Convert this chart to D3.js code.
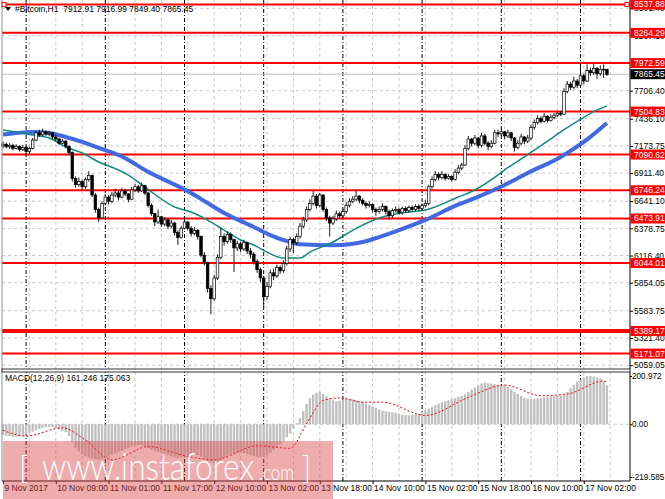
<!DOCTYPE html>
<html>
<head>
<meta charset="utf-8">
<script src="https://cdn.jsdelivr.net/npm/d3@7"></script>
<style>
  body { margin: 0; background: #fff; }
  svg { display: block; font-family: "Liberation Sans", Arial, sans-serif; }
  .axis text { font-family: "Liberation Sans", Arial, sans-serif; font-size: 8.5px; fill: #000; }
  .axis line { stroke: #000; }
  .macd-axis text { font-size: 8.2px; }
  .mark { font-family: Lato, "Liberation Sans", Arial, sans-serif; font-weight: 300; fill: #fff; }
</style>
</head>
<body>
<div id="chart-container"></div>
<script>
// H1 bars, [open, high, low, close]
const bars = [
  [7175,7215,7150,7190],[7190,7205,7150,7165],[7165,7200,7145,7180],[7180,7195,7130,7150],
  [7150,7190,7140,7170],[7170,7180,7120,7140],[7140,7185,7125,7160],[7160,7170,7080,7120],
  [7120,7165,7100,7150],[7150,7250,7140,7230],[7230,7320,7220,7300],[7300,7330,7260,7280],
  [7280,7340,7270,7310],[7310,7325,7270,7290],[7290,7320,7265,7300],[7300,7310,7240,7260],
  [7260,7280,7220,7240],[7240,7255,7185,7200],[7200,7240,7190,7220],[7220,7230,7150,7170],
  [7170,7180,7090,7110],[7110,7120,6830,6860],[6860,6880,6770,6800],[6800,6870,6780,6830],
  [6830,6850,6750,6780],[6780,6870,6760,6850],[6850,6930,6830,6890],[6890,6900,6680,6700],
  [6700,6720,6530,6560],[6560,6580,6440,6480],[6480,6640,6470,6620],[6620,6710,6600,6680],
  [6680,6700,6610,6640],[6640,6730,6620,6700],[6700,6760,6680,6720],[6720,6740,6650,6680],
  [6680,6770,6670,6740],[6740,6760,6690,6710],[6710,6720,6630,6660],[6660,6780,6650,6750],
  [6750,6810,6730,6780],[6780,6800,6720,6740],[6740,6820,6730,6790],[6790,6800,6700,6720],
  [6720,6730,6580,6600],[6600,6620,6500,6520],[6520,6530,6400,6440],[6440,6560,6420,6490],
  [6490,6500,6390,6420],[6420,6490,6400,6460],[6460,6480,6370,6400],[6400,6460,6380,6430],
  [6430,6440,6310,6340],[6340,6360,6220,6290],[6290,6400,6280,6380],[6380,6490,6370,6440],
  [6440,6450,6360,6380],[6380,6400,6300,6330],[6330,6390,6310,6360],[6360,6370,6270,6300],
  [6300,6310,6100,6120],[6120,6150,6020,6050],[6050,6060,5760,5800],[5800,5830,5550,5700],
  [5700,5930,5680,5900],[5900,6130,5880,6100],[6100,6380,6080,6300],[6300,6330,6210,6250],
  [6250,6350,6230,6320],[6320,6340,6240,6270],[6270,6280,5960,6190],[6190,6260,6160,6230],
  [6230,6250,6150,6180],[6180,6270,6160,6240],[6240,6250,6130,6160],[6160,6190,6090,6130],
  [6130,6150,6030,6060],[6060,6080,5950,5980],[5980,6000,5860,5900],[5900,5920,5620,5720],
  [5720,5860,5690,5820],[5820,5980,5800,5950],[5950,5990,5880,5920],[5920,6030,5900,6000],
  [6000,6020,5940,5970],[5970,6070,5950,6040],[6040,6210,6020,6180],[6180,6300,6150,6270],
  [6270,6290,6140,6240],[6240,6330,6220,6300],[6300,6430,6280,6400],[6400,6490,6380,6460],
  [6460,6590,6440,6560],[6560,6660,6540,6620],[6620,6750,6600,6690],[6690,6710,6570,6600],
  [6600,6720,6580,6700],[6700,6710,6540,6560],[6560,6580,6450,6480],[6480,6500,6300,6430],
  [6430,6500,6410,6470],[6470,6550,6450,6520],[6520,6540,6470,6500],[6500,6570,6480,6540],
  [6540,6630,6520,6600],[6600,6670,6580,6640],[6640,6690,6620,6660],[6660,6750,6640,6690],
  [6690,6700,6620,6650],[6650,6670,6600,6620],[6620,6640,6570,6600],[6600,6640,6580,6610],
  [6610,6620,6530,6560],[6560,6580,6500,6540],[6540,6590,6520,6560],[6560,6620,6540,6590],
  [6590,6600,6510,6540],[6540,6560,6460,6500],[6500,6570,6480,6550],[6550,6590,6530,6560],
  [6560,6580,6510,6530],[6530,6590,6510,6570],[6570,6590,6530,6550],[6550,6600,6530,6580],
  [6580,6600,6540,6560],[6560,6610,6540,6590],[6590,6610,6550,6570],[6570,6620,6550,6600],
  [6600,6650,6580,6620],[6620,6800,6600,6780],[6780,6880,6760,6850],[6850,6930,6830,6900],
  [6900,6920,6840,6870],[6870,6930,6850,6900],[6900,6910,6840,6860],[6860,6900,6850,6880],
  [6880,6890,6830,6850],[6850,6950,6840,6920],[6920,6990,6900,6960],[6960,7010,6940,6990],
  [6990,7180,6980,7150],[7150,7270,7130,7240],[7240,7250,7170,7200],[7200,7280,7180,7250],
  [7250,7260,7150,7180],[7180,7300,7160,7270],[7270,7290,7180,7200],[7200,7220,7130,7170],
  [7170,7230,7150,7200],[7200,7330,7190,7300],[7300,7330,7260,7290],[7290,7340,7270,7310],
  [7310,7320,7240,7270],[7270,7330,7250,7300],[7300,7310,7220,7250],[7250,7260,7120,7160],
  [7160,7230,7140,7200],[7200,7290,7180,7260],[7260,7270,7190,7220],[7220,7280,7200,7250],
  [7250,7380,7230,7350],[7350,7430,7330,7400],[7400,7470,7380,7440],[7440,7460,7390,7410],
  [7410,7490,7400,7460],[7460,7470,7400,7420],[7420,7480,7410,7450],[7450,7490,7430,7470],
  [7470,7510,7450,7490],[7490,7510,7460,7480],[7480,7730,7470,7700],[7700,7800,7680,7770],
  [7770,7790,7710,7740],[7740,7840,7720,7800],[7800,7820,7730,7760],[7760,7970,7740,7850],
  [7850,7870,7770,7800],[7800,7960,7790,7900],[7900,7930,7850,7880],[7880,7975,7860,7920],
  [7920,7935,7820,7870],[7870,7950,7850,7910],[7910,7960,7830,7912.91],[7912.91,7916.99,7849.40,7865.45]
];

// moving averages, [bar, price]
const maSlow = [
  [0,7284],[9,7308],[14,7298],[19,7260],[24,7212],[29,7154],[35,7086],[38,7038],[43,6942],
  [57,6720],[62,6623],[67,6527],[76,6392],[81,6314],[85,6266],[90,6225],[100,6215],[105,6225],
  [110,6255],[114,6295],[119,6350],[128,6460],[138,6610],[143,6671],[152,6797],[159,6913],
  [169,7067],[176,7212],[183,7395]
];
const maFast = [
  [0,7327],[9,7279],[14,7250],[19,7163],[24,7105],[29,7019],[35,6942],[38,6893],[43,6777],
  [52,6585],[57,6537],[62,6459],[67,6362],[72,6266],[76,6218],[80,6150],[85,6092],[90,6092],
  [93,6150],[100,6247],[105,6343],[114,6478],[123,6537],[128,6556],[138,6681],[143,6749],
  [149,6870],[152,6942],[159,7090],[165,7220],[170,7330],[175,7430],[179,7504],[183,7560]
];

// MACD main (histogram), one per bar
const macdMain = [
  -45,-48,-50,-52,-52,-50,-47,
  -42,-36,-31,-25,-20,-15,-12,-11,-12,
  -16,-22,-28,-33,
  -50,-75,-98,-113,-125,
  -133,-139,-144,-147,-148,-146,-141,-135,
  -128,-122,-116,-110,-104,
  -98,-92,-88,-86,-88,-93,-100,
  -107,-112,-116,-120,-125,-130,-134,-138,-140,-138,-134,
  -130,-127,-126,-128,-135,
  -145,-152,-158,-162,-160,-152,-140,-130,
  -125,-120,-118,-118,-120,-124,-128,-132,
  -136,-138,-136,-130,-120,
  -107,-95,-85,-70,-55,
  -38,-18,
  5,25,55,
  85,108,124,132,135,
  126,116,108,100,95,
  98,102,105,106,104,101,97,
  92,86,80,74,68,62,57,54,52,
  50,47,44,40,38,37,38,40,44,50,
  57,65,72,80,86,92,96,100,
  105,110,115,119,125,
  135,145,153,162,170,
  173,171,169,167,165,163,160,155,
  145,135,126,118,110,105,104,
  106,108,110,112,114,116,118,119,120,122,
  135,150,165,178,186,
  195,200,201,199,195,190,180,161.246
];
// MACD signal, [bar, value]
const macdSignal = [
  [0,-25],[7,-49],[18,-15],[25,-66],[33,-148],[44,-93],[56,-134],[64,-148],[77,-90],
  [87,-100],[92,3],[97,99],[102,110],[109,92],[115,92],[128,37],[141,112],[152,163],
  [163,119],[171,126],[182,180],[183,175.063]
];

const levels = [8537.88, 8264.29, 7972.59, 7504.83, 7090.62, 6746.24, 6473.91, 6044.01, 5389.17, 5171.07];
const priceTicks = [8501.40, 8237.10, 7706.40, 7436.10, 7173.75, 6911.40, 6641.10,
  6378.75, 6116.40, 5854.05, 5583.75, 5321.40, 5059.05];
const hiddenTick = 7971.75;
const macdTicks = [200.972, 0, -219.585];
const timeLabels = ["9 Nov 2017", "10 Nov 09:00", "11 Nov 01:00", "11 Nov 17:00", "12 Nov 10:00",
  "13 Nov 02:00", "13 Nov 18:00", "14 Nov 10:00", "15 Nov 02:00", "15 Nov 18:00",
  "16 Nov 10:00", "17 Nov 02:00"];
const timeLabelBars = [0, 16, 32, 48, 64, 80, 96, 112, 128, 144, 160, 176];
const daySeparators = [7, 31, 55, 79, 103, 127, 151, 175];
const lastPrice = 7865.45;

const width = 665, height = 499;
const plotLeft = 2, plotRight = 630, mainBottom = 369, macdTop = 372, macdBottom = 481;

const svg = d3.select("#chart-container").append("svg")
  .attr("width", width)
  .attr("height", height);

let x = d3.scaleLinear().domain([0, 183]).range([3, 606.9]);
let y = d3.scaleLinear().domain([5022.4, 8571.4]).range([mainBottom, 1]);
let ym = d3.scaleLinear().domain([-219.585, 200.972]).range([477, 376]);

// grid
let grid = svg.append("g").attr("class", "grid");
grid.selectAll("line.h").data(priceTicks.concat([hiddenTick])).enter().append("line")
  .attr("x1", plotLeft).attr("x2", plotRight)
  .attr("y1", d => y(d)).attr("y2", d => y(d))
  .attr("stroke", "#c8c8c8").attr("stroke-dasharray", "3,3");
grid.append("line")
  .attr("x1", plotLeft).attr("x2", plotRight)
  .attr("y1", ym(0)).attr("y2", ym(0))
  .attr("stroke", "#c8c8c8").attr("stroke-dasharray", "3,3");
grid.selectAll("line.v").data(d3.range(8, 185, 8)).enter().append("line")
  .attr("x1", d => x(d)).attr("x2", d => x(d))
  .attr("y1", 0).attr("y2", macdBottom)
  .attr("stroke", "#c8c8c8").attr("stroke-dasharray", "3,3");
grid.selectAll("line.sep").data(daySeparators).enter().append("line")
  .attr("x1", d => x(d)).attr("x2", d => x(d))
  .attr("y1", 0).attr("y2", macdBottom)
  .attr("stroke", "#000").attr("stroke-dasharray", "4,2,1,2");

// horizontal levels
svg.append("g").selectAll("line").data(levels).enter().append("line")
  .attr("x1", plotLeft).attr("x2", plotRight)
  .attr("y1", d => y(d)).attr("y2", d => y(d))
  .attr("stroke", "#ff0000")
  .attr("stroke-width", d => d === 5389.17 ? 4 : 2);

// bid line
svg.append("line")
  .attr("x1", plotLeft).attr("x2", plotRight)
  .attr("y1", y(lastPrice)).attr("y2", y(lastPrice))
  .attr("stroke", "#c0c0c0");

// moving averages
let maLine = d3.line().x(d => x(d[0])).y(d => y(d[1])).curve(d3.curveMonotoneX);
svg.append("path").datum(maSlow).attr("d", maLine)
  .attr("fill", "none").attr("stroke", "#4169e1").attr("stroke-width", 4);
svg.append("path").datum(maFast).attr("d", maLine)
  .attr("fill", "none").attr("stroke", "#0e8a80").attr("stroke-width", 1.5);

// candles
let candle = svg.append("g").attr("class", "candles")
  .selectAll("g").data(bars).enter().append("g");
candle.append("line")
  .attr("x1", (d, i) => x(i)).attr("x2", (d, i) => x(i))
  .attr("y1", d => y(d[1])).attr("y2", d => y(d[2]))
  .attr("stroke", "#000").attr("stroke-width", 0.9);
candle.append("rect")
  .attr("x", (d, i) => x(i) - 1.3)
  .attr("width", 2.6)
  .attr("y", d => y(Math.max(d[0], d[3])))
  .attr("height", d => Math.max(0.8, Math.abs(y(d[0]) - y(d[3]))))
  .attr("fill", d => d[3] >= d[0] ? "#fff" : "#000")
  .attr("stroke", "#000").attr("stroke-width", 0.7);

// MACD
svg.append("g").selectAll("rect").data(macdMain).enter().append("rect")
  .attr("x", (d, i) => x(i) - 1.2)
  .attr("width", 2.4)
  .attr("y", d => Math.min(ym(d), ym(0)))
  .attr("height", d => Math.abs(ym(d) - ym(0)))
  .attr("fill", "#c0c0c0");
let sigLine = d3.line().x(d => x(d[0])).y(d => ym(d[1])).curve(d3.curveMonotoneX);
svg.append("path").datum(macdSignal).attr("d", sigLine)
  .attr("fill", "none").attr("stroke", "#ff0000").attr("stroke-width", 1)
  .attr("stroke-dasharray", "2,2");

// frame
svg.append("line").attr("x1", plotLeft).attr("x2", plotLeft).attr("y1", 0).attr("y2", macdBottom)
  .attr("stroke", "#909090");
svg.append("rect").attr("x", plotLeft).attr("y", mainBottom).attr("width", plotRight - plotLeft).attr("height", 3)
  .attr("fill", "#fff").attr("stroke", "#333").attr("stroke-width", 1);
svg.append("line").attr("x1", plotLeft).attr("x2", plotRight).attr("y1", macdBottom).attr("y2", macdBottom)
  .attr("stroke", "#000");

// price axis
let priceAxis = d3.axisRight(y).tickValues(priceTicks).tickFormat(d3.format(".2f")).tickSize(3).tickPadding(1);
svg.append("g").attr("class", "axis")
  .attr("transform", "translate(" + plotRight + ",0)")
  .call(priceAxis)
  .call(g => g.select(".domain").attr("d", "M0,0V" + mainBottom).attr("stroke", "#000"));

let macdAxis = d3.axisRight(ym).tickValues(macdTicks)
  .tickFormat(d => d === 0 ? "0.00" : String(d)).tickSize(2).tickPadding(0);
svg.append("g").attr("class", "axis macd-axis")
  .attr("transform", "translate(" + plotRight + ",0)")
  .call(macdAxis)
  .call(g => g.select(".domain").attr("d", "M0," + macdTop + "V" + macdBottom).attr("stroke", "#000"));

// time axis
let timeAxis = d3.axisBottom(x).tickValues(timeLabelBars)
  .tickFormat((d, i) => timeLabels[i]).tickSize(3);
svg.append("g").attr("class", "axis")
  .attr("transform", "translate(0," + macdBottom + ")")
  .call(timeAxis)
  .call(g => g.select(".domain").remove())
  .call(g => g.selectAll("text").attr("text-anchor", "start").attr("x", 1).attr("dy", "0.45em"));

// level labels on the price axis
let tags = svg.append("g").selectAll("g").data(levels).enter().append("g")
  .attr("transform", d => "translate(" + (plotRight + 0.5) + "," + y(d) + ")");
tags.append("rect").attr("x", 0).attr("y", -5).attr("width", 35).attr("height", 10).attr("fill", "#ff0000");
tags.append("text").attr("x", 3.5).attr("dy", "0.35em")
  .style("font-size", "8.5px").attr("fill", "#fff")
  .text(d => d.toFixed(2));

// last price tag
let lastTag = svg.append("g").attr("transform", "translate(" + (plotRight + 0.5) + "," + y(lastPrice) + ")");
lastTag.append("rect").attr("x", 0).attr("y", -5).attr("width", 35).attr("height", 10).attr("fill", "#000");
lastTag.append("text").attr("x", 3.5).attr("dy", "0.35em")
  .style("font-size", "8.5px").attr("fill", "#fff").text(lastPrice.toFixed(2));

// anchor squares of the top level
[plotLeft + 2, plotRight - 3].forEach(px => {
  svg.append("rect").attr("x", px - 2).attr("y", y(levels[0]) - 2).attr("width", 4).attr("height", 4)
    .attr("fill", "#fff").attr("stroke", "#ff0000").attr("stroke-width", 1);
});

// header
svg.append("path").attr("d", "M5,7L11,7L8,11Z").attr("fill", "#000");
let last = bars[bars.length - 1];
svg.append("text").attr("x", 15).attr("y", 12)
  .style("font-size", "8.5px").style("white-space", "pre").attr("fill", "#000")
  .text("#Bitcoin,H1  " + last.map(v => v.toFixed(2)).join(" "));
svg.append("text").attr("x", 5).attr("y", 381)
  .style("font-size", "8.5px").attr("fill", "#000")
  .text("MACD(12,26,9) " + macdMain[macdMain.length - 1].toFixed(3) + " " + macdSignal[macdSignal.length - 1][1].toFixed(3));

// watermark
svg.append("rect").attr("x", 3).attr("y", 441).attr("width", 330).attr("height", 58)
  .attr("fill", "rgba(218,72,72,0.45)");
let mark = svg.append("g").attr("class", "mark");
mark.append("text").attr("x", 19).attr("y", 479).style("font-size", "31px").text("[");
mark.append("text").attr("x", 42).attr("y", 480).style("font-size", "38px")
  .attr("textLength", 212).attr("lengthAdjust", "spacingAndGlyphs").text("www.instaforex");
mark.append("text").attr("x", 259).attr("y", 480).style("font-size", "21px")
  .attr("textLength", 35).attr("lengthAdjust", "spacingAndGlyphs").text(".com");
mark.append("text").attr("x", 302).attr("y", 479).style("font-size", "31px").text("]");
</script>
</body>
</html>
